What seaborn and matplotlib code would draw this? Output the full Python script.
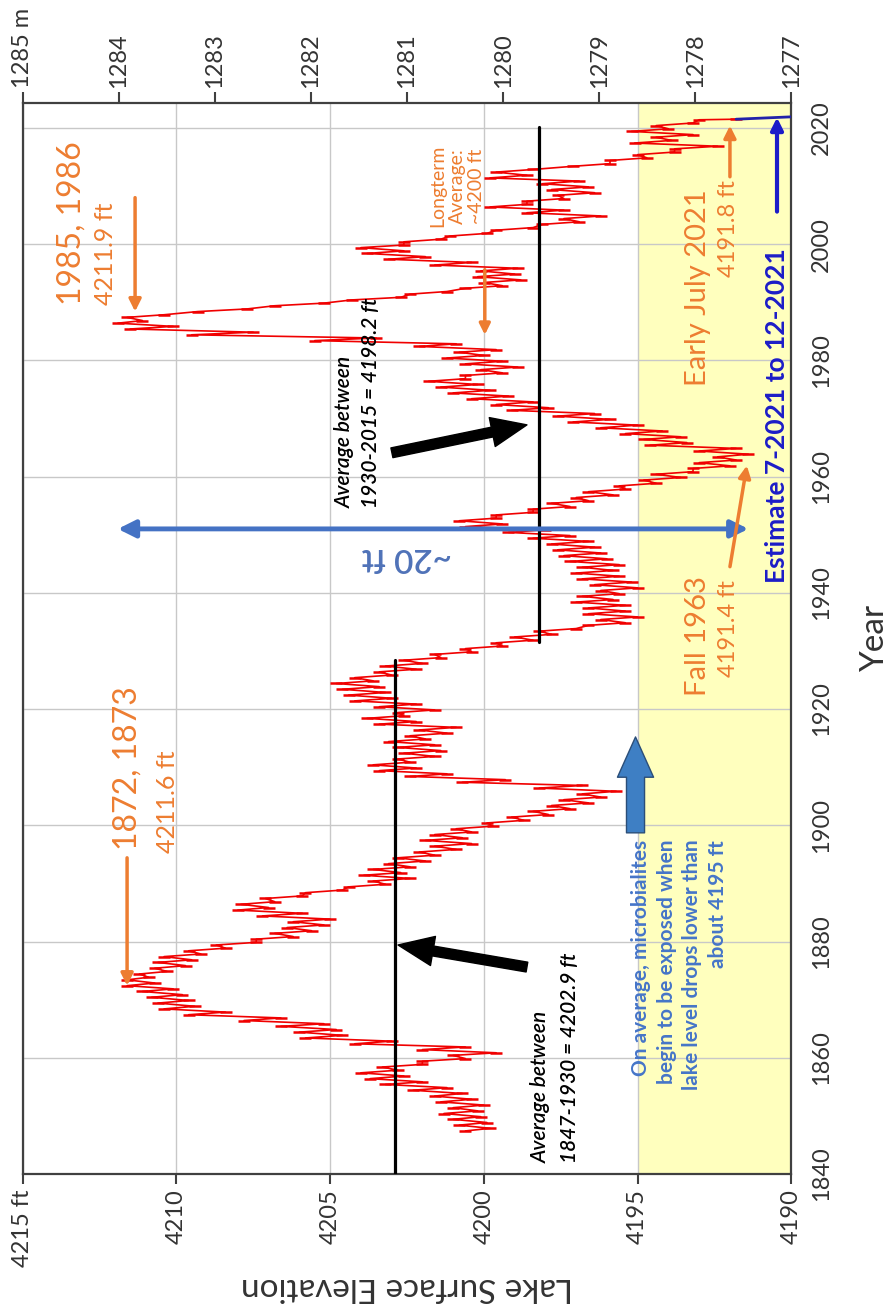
import numpy as np
import pandas as pd
import matplotlib
matplotlib.use("Agg")
import matplotlib.pyplot as plt
import seaborn as sns

# ---- Great Salt Lake surface elevation (ft): spring high and fall low of each year ----
first_year = 1847
spring_high = [
    4200.6, 4200.8, 4201.0,
    4201.3, 4201.0, 4201.4, 4201.6, 4202.3, 4203.2, 4203.7, 4204.0, 4203.3, 4202.0,
    4201.0, 4202.0, 4204.2, 4205.8, 4206.0, 4206.6, 4207.8, 4209.6, 4210.4, 4210.6,
    4210.8, 4211.1, 4211.6, 4211.6, 4211.2, 4210.7, 4210.6, 4210.4, 4209.6, 4208.7,
    4207.4, 4206.8, 4206.4, 4206.2, 4207.2, 4208.0, 4207.9, 4207.1, 4205.8, 4204.4,
    4203.6, 4203.9, 4203.6, 4203.1, 4202.8, 4202.1, 4201.6, 4201.9, 4201.6, 4200.9,
    4199.9, 4199.1, 4198.4, 4197.8, 4197.4, 4196.8, 4198.2, 4200.7, 4202.4, 4203.4,
    4203.6, 4202.8, 4202.6, 4202.8, 4203.1, 4202.4, 4202.1, 4203.4, 4203.8, 4202.8,
    4203.4, 4204.2, 4204.4, 4204.6, 4204.8, 4204.2, 4203.4, 4203.2, 4202.6, 4201.6,
    4200.6, 4199.6, 4199.0, 4198.2, 4196.6, 4196.2, 4196.6, 4196.6, 4197.0, 4196.8,
    4196.2, 4196.4, 4196.8, 4197.0, 4196.8, 4197.2, 4197.4, 4197.6, 4197.8, 4198.4,
    4199.2, 4200.6, 4200.8, 4199.6, 4198.4, 4197.8, 4197.0, 4196.6, 4195.6, 4194.8,
    4194.4, 4193.2, 4193.0, 4192.4, 4193.0, 4194.6, 4194.8, 4195.4, 4196.2, 4197.1,
    4197.6, 4199.1, 4199.6, 4200.4, 4201.0, 4201.4, 4201.8, 4200.6, 4200.1, 4200.6,
    4201.2, 4200.8, 4202.1, 4205.5, 4209.5, 4211.5, 4211.9, 4211.6, 4209.3, 4206.8,
    4204.3, 4202.4, 4200.6, 4200.0, 4200.2, 4200.1, 4201.6, 4203.1, 4203.8, 4204.0,
    4202.6, 4201.1, 4199.6, 4198.1, 4197.4, 4198.6, 4199.8, 4198.6, 4197.6, 4197.8,
    4198.1, 4199.8, 4199.6, 4197.1, 4195.9, 4195.0, 4193.8, 4195.1, 4194.4, 4195.2,
    4194.4, 4193.0,
]
fall_low = [
    4199.8, 4199.9, 4200.1,
    4200.2, 4200.0, 4200.4, 4200.7, 4201.2, 4202.0, 4202.6, 4202.8, 4202.0, 4200.6,
    4199.6, 4200.6, 4203.0, 4204.6, 4204.8, 4205.2, 4206.6, 4208.4, 4209.4, 4209.6,
    4209.8, 4210.1, 4210.7, 4210.9, 4210.3, 4209.7, 4209.5, 4209.2, 4208.4, 4207.4,
    4206.2, 4205.6, 4205.2, 4205.0, 4205.9, 4207.0, 4206.8, 4205.9, 4204.6, 4203.2,
    4202.4, 4202.7, 4202.4, 4201.9, 4201.6, 4200.9, 4200.4, 4200.7, 4200.4, 4199.7,
    4198.7, 4197.9, 4197.2, 4196.6, 4196.2, 4195.7, 4196.8, 4199.3, 4201.2, 4202.2,
    4202.4, 4201.6, 4201.4, 4201.6, 4201.9, 4201.2, 4200.9, 4202.2, 4202.6, 4201.6,
    4202.2, 4203.0, 4203.2, 4203.4, 4203.6, 4203.0, 4202.2, 4202.0, 4201.4, 4200.4,
    4199.4, 4198.4, 4197.8, 4197.0, 4195.4, 4195.0, 4195.4, 4195.4, 4195.8, 4195.6,
    4195.0, 4195.2, 4195.6, 4195.8, 4195.6, 4196.0, 4196.2, 4196.4, 4196.6, 4197.2,
    4198.0, 4199.4, 4199.6, 4198.4, 4197.2, 4196.6, 4195.8, 4195.4, 4194.4, 4193.6,
    4193.2, 4192.0, 4191.8, 4191.4, 4191.8, 4193.4, 4193.6, 4194.2, 4195.0, 4195.9,
    4196.4, 4197.9, 4198.4, 4199.2, 4199.8, 4200.2, 4200.6, 4199.4, 4198.9, 4199.4,
    4200.0, 4199.6, 4200.9, 4203.5, 4207.5, 4210.1, 4211.1, 4210.4, 4207.7, 4205.2,
    4202.7, 4201.2, 4199.4, 4198.8, 4199.0, 4198.9, 4200.4, 4201.9, 4202.6, 4202.6,
    4201.4, 4199.9, 4198.4, 4196.9, 4196.2, 4197.4, 4198.6, 4197.4, 4196.4, 4196.6,
    4196.9, 4198.6, 4198.4, 4195.9, 4194.7, 4193.8, 4192.4, 4193.9, 4193.2, 4194.0,
    4193.2,
]
july_2021_year = 2021.5
july_2021_level = 4191.8

# projected decline for the second half of 2021
estimate_years = [2021.5, 2022.0]
estimate_level = [4191.8, 4189.6]

# long-term averages and the year spans over which they are drawn
avg_early = 4202.9
avg_early_span = [1840.0, 1928.5]
avg_late = 4198.2
avg_late_span = [1931.5, 2020.2]

record_high = 4211.9
record_low = 4191.4
microbialite_level = 4195

elev_ticks = [4215, 4210, 4205, 4200, 4195, 4190]
elev_labels = ["4215 ft", "4210", "4205", "4200", "4195", "4190"]
metric_ticks = [1285, 1284, 1283, 1282, 1281, 1280, 1279, 1278, 1277]
metric_labels = ["1285 m", "1284", "1283", "1282", "1281", "1280", "1279", "1278", "1277"]
year_ticks = [1840, 1860, 1880, 1900, 1920, 1940, 1960, 1980, 2000, 2020]

# ---- build the seasonal zig-zag series ----
t, lvl = [], []
for i, hi in enumerate(spring_high):
    yr = first_year + i
    t.append(yr + 0.4)
    lvl.append(hi)
    if i < len(fall_low):
        t.append(yr + 0.85)
        lvl.append(fall_low[i])
t.append(july_2021_year)
lvl.append(july_2021_level)
lake = pd.DataFrame({"year": t, "elevation": lvl})
est = pd.DataFrame({"year": estimate_years, "elevation": estimate_level})

# ---- style ----
sns.set_theme(style="white")
plt.rcParams["font.family"] = ["Lato", "DejaVu Sans"]
ORANGE = "#ED7D31"
BLUE = "#4472C4"
DARKBLUE = "#1C1CC8"
TXT = "#333333"

fig = plt.figure(figsize=(8.93, 13.13), dpi=100)
ax = fig.add_axes([0.0252, 0.1059, 0.8611, 0.8157])
ax.set_xlim(4215, 4190)
ax.set_ylim(1840, 2024.3)

ax.axvspan(4190, microbialite_level, color="#FFFFBE", lw=0, zorder=0.2)
ax.set_axisbelow(True)
ax.grid(True, color="#C8C8C8", lw=1.0)

sns.lineplot(data=lake, x="elevation", y="year", sort=False, estimator=None,
             orient="y", color="#F00000", lw=1.2, marker="_", markersize=9,
             markeredgewidth=1.8, markeredgecolor="#F00000", ax=ax, zorder=3)
sns.lineplot(data=est, x="elevation", y="year", sort=False, estimator=None,
             orient="y", color="#2222AA", lw=2.0, ax=ax, zorder=3)

ax.plot([avg_early, avg_early], avg_early_span, color="black", lw=2.3, zorder=4)
ax.plot([avg_late, avg_late], avg_late_span, color="black", lw=2.3, zorder=4)

# ---- axes ----
for s in ax.spines.values():
    s.set_color("#404040")
    s.set_linewidth(1.6)
ax.set_xticks(elev_ticks)
ax.set_xticklabels(elev_labels, rotation=90, fontsize=17, color=TXT)
ax.tick_params(axis="x", bottom=True, direction="out", length=7, width=1.5,
               color="#404040", pad=4)
ax.yaxis.tick_right()
ax.set_yticks(year_ticks)
ax.set_yticklabels([str(y) for y in year_ticks], rotation=90, fontsize=17,
                   color=TXT, va="center")
ax.tick_params(axis="y", length=0, pad=14)

ax.set_xlabel("Lake Surface Elevation", fontsize=24, rotation=180, color=TXT)
ax.xaxis.set_label_coords(0.5, -0.1055)
ax.xaxis.label.set_va("center")
ax.yaxis.set_label_position("right")
ax.set_ylabel("Year", fontsize=24, rotation=90, color=TXT)
ax.yaxis.set_label_coords(1.1086, 0.5)
ax.yaxis.label.set_va("center")

ax2 = ax.twiny()
ax2.set_xlim(1285, 1277)
ax2.set_xticks(metric_ticks)
ax2.set_xticklabels(metric_labels, rotation=90, fontsize=17, color=TXT,
                    va="bottom", ha="center")
ax2.tick_params(axis="x", top=True, direction="out", length=8, width=1.5,
                color="#404040", pad=3)
ax2.grid(False)
for s in ax2.spines.values():
    s.set_visible(False)

# ---- annotations ----
def arrow(xy, xytext, style, color, **kw):
    props = dict(arrowstyle=style, color=color, shrinkA=0, shrinkB=0)
    props.update(kw)
    ax.annotate("", xy=xy, xytext=xytext, arrowprops=props, zorder=6)

# 1872-73 peak
ax.text(4211.60, 1895.8, "1872, 1873", rotation=90, ha="center", va="bottom",
        fontsize=23, color=ORANGE)
ax.text(4210.30, 1895.3, "4211.6 ft", rotation=90, ha="center", va="bottom",
        fontsize=18, color=ORANGE)
arrow((4211.6, 1872.4), (4211.6, 1894.4), "-|>", ORANGE, lw=2.5, mutation_scale=18)

# 1985-86 peak
ax.text(4213.42, 1989.6, "1985, 1986", rotation=90, ha="center", va="bottom",
        fontsize=23, color=ORANGE)
ax.text(4212.29, 1989.6, "4211.9 ft", rotation=90, ha="center", va="bottom",
        fontsize=18, color=ORANGE)
arrow((4211.34, 1988.4), (4211.34, 2008.0), "-|>", ORANGE, lw=2.5, mutation_scale=18)

# long-term average
ax.text(4200.87, 2017.1, "Longterm\nAverage:\n~4200 ft", rotation=90, ha="center",
        va="top", fontsize=14, color=ORANGE, multialignment="center", linespacing=1.15)
arrow((4199.97, 1984.4), (4199.97, 1995.6), "-|>", ORANGE, lw=2.5, mutation_scale=16)

# 1930-2015 average
ax.text(4204.52, 1954.6, "Average between", rotation=90, ha="center", va="bottom",
        fontsize=15, style="italic", fontweight="semibold", color="black")
ax.text(4203.67, 1954.6, f"1930-2015 = {avg_late} ft", rotation=90, ha="center",
        va="bottom", fontsize=15, style="italic", fontweight="semibold", color="black")
arrow((4198.60, 1968.9), (4202.99, 1964.1),
      "simple,head_length=1.5,head_width=1.25,tail_width=0.42", "black",
      mutation_scale=17)

# 1847-1930 average
ax.text(4198.14, 1841.9, "Average between", rotation=90, ha="center", va="bottom",
        fontsize=15, style="italic", fontweight="semibold", color="black")
ax.text(4197.20, 1841.9, f"1847-1930 = {avg_early} ft", rotation=90, ha="center",
        va="bottom", fontsize=15, style="italic", fontweight="semibold", color="black")
arrow((4202.79, 1879.4), (4198.60, 1875.6),
      "simple,head_length=1.5,head_width=1.25,tail_width=0.42", "black",
      mutation_scale=17)

# ~20 ft range
arrow((record_low, 1951.0), (record_high, 1951.0), "<|-|>", BLUE, lw=3.5,
      mutation_scale=26)
ax.text(4202.5, 1946.2, "~20 ft", rotation=180, ha="center", va="center",
        fontsize=24, color="#4F72B8", fontweight="semibold")

# microbialites
ax.text(4193.64, 1897.5,
        "On average, microbialites\nbegin to be exposed when\nlake level drops lower than\nabout 4195 ft",
        rotation=90, ha="center", va="top", multialignment="right", fontsize=15,
        fontweight="bold", color="#4575C8", linespacing=1.35)
arrow((microbialite_level + 0.07, 1915.2), (microbialite_level + 0.07, 1898.7),
      "simple,head_length=1.45,head_width=1.3,tail_width=0.65", "#3E7FC4",
      mutation_scale=20, ec="#2B4E78", lw=1)

# 1963 low
ax.text(4193.04, 1942.8, "Fall 1963", rotation=90, ha="center", va="top",
        fontsize=21, color=ORANGE)
ax.text(4192.06, 1942.2, f"{record_low} ft", rotation=90, ha="center", va="top",
        fontsize=17, color=ORANGE)
arrow((4191.45, 1961.9), (4192.0, 1944.5), "-|>", ORANGE, lw=2.5, mutation_scale=18)

# July 2021
ax.text(4193.04, 2009.4, "Early July 2021", rotation=90, ha="center", va="top",
        fontsize=21, color=ORANGE)
ax.text(4192.06, 2011.1, f"{july_2021_level} ft", rotation=90, ha="center",
        va="top", fontsize=17, color=ORANGE)
arrow((4192.0, 2020.4), (4192.0, 2011.6), "-|>", ORANGE, lw=2.5, mutation_scale=18)

# estimate
ax.text(4190.47, 1941.7, "Estimate 7-2021 to 12-2021", rotation=90, ha="center",
        va="bottom", fontsize=19, fontweight="bold", color=DARKBLUE)
arrow((4190.47, 2021.8), (4190.47, 2005.6), "-|>", DARKBLUE, lw=3, mutation_scale=18)

fig.savefig("out.png", dpi=100)
